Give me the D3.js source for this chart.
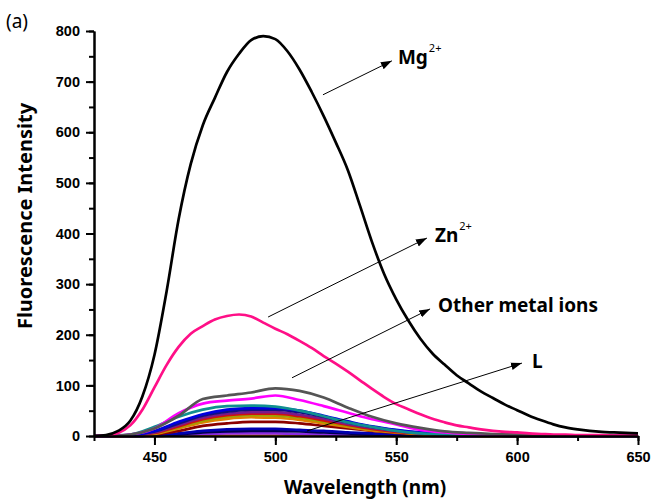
<!DOCTYPE html>
<html>
  <head>
    <meta charset="utf-8">
    <script src="https://d3js.org/d3.v7.min.js"></script>
    <style>
      body { margin: 0; background: #fff; }
      .tick text { font-family: "Liberation Sans", Arial, sans-serif; font-weight: bold; font-size: 14.5px; fill: #000; }
      .title { font-family: "Noto Sans", sans-serif; font-weight: bold; fill: #000; }
      .curve { fill: none; stroke-width: 2.7px; stroke-linejoin: round; }
    </style>
  </head>
  <body>
    <div id="chart"></div>
    <script>
      // wavelength grids (nm)
      var wlFine = [425,430,435,440,445,450,455,460,465,470,475,480,485,490,495,500,505,510,515,520,525,530,535,540,545,550,555,560,565,570,575,580,585,590,595,600,605,610,615,620,625,630,635,640,645,650]
      var wlCoarse = [425,430,440,450,460,470,480,490,500,510,520,530,540,550,560,570,580,590,600,610,620,630,640,650]

      // intensities
      var mg = [0,2,10,30,78,160,285,428,537,614,668,719,755,782,790,784,760,724,680,632,580,525,455,383,320,270,228,192,163,141,120,104,88,75,62,51,40,31,23,17,13,10,8,7,6,5]
      var zn = [0,1,6,21,52,96,140,176,202,217,230,237,240,236,224,212,201,188,174,158,143,127,110,93,77,63,53,43,34,27,21,17,13,10,8,7,5,4,3,3,2,2,2,1,1,1]
      var grayS = [0,0,3,15,40,73,80,86,94,89,76,56,38,25,16,9,6,4,3,2,1,1,0,0]
      var magentaS = [0,0,3,15,45,64,70,74,80,71,59,46,33,23,12,7,4,3,2,1,1,0,0,0]
      var tealS = [0,1,3,18,38,52,59,60,58,50,39,27,18,10,5,3,2,1,1,1,0,0,0,0]
      var blueS = [0,0,2,10,28,43,52,55,55,50,40,29,19,12,7,4,2,1,1,0,0,0,0,0]
      var navyS = [0,0,2,9,25,40,48,52,52,47,38,27,18,11,6,3,2,1,0,0,0,0,0,0]
      var purpleS = [0,0,1,7,22,36,44,47,47,42,34,24,16,10,5,3,2,1,0,0,0,0,0,0]
      var redS = [0,0,1,6,19,33,41,44,44,39,31,22,14,8,5,3,1,1,0,0,0,0,0,0]
      var oliveS = [0,0,1,5,17,30,38,41,40,36,28,20,13,8,4,2,1,0,0,0,0,0,0,0]
      var orangeS = [0,0,1,4,15,27,34,37,36,32,25,18,11,7,4,2,1,0,0,0,0,0,0,0]
      var wineS = [0,0,0,3,10,20,25,28,28,25,20,15,10,6,3,2,1,0,0,0,0,0,0,0]
      var blue2S = [0,0,0,1,5,10,13,14,14,12,10,7,5,3,2,1,0,0,0,0,0,0,0,0]
      var darkNavyS = [0,0,0,1,3,7,9,10,10,9,7,5,3,2,1,0,0,0,0,0,0,0,0,0]
      var violetS = [0,0,0,0,2,4,5,5,5,4,3,2,2,1,0,0,0,0,0,0,0,0,0,0]
      var flatS = [0,0,0,0,1,1,1,1,1,1,1,1,1,0,0,0,0,0,0,0,0,0,0,0]

      var xTicks = [450,500,550,600,650]
      var yTicks = [0,100,200,300,400,500,600,700,800]

      // annotations: [label, superscript, arrow start (nm, a.u.), arrow end, text anchor]
      var notes = [
        ["Mg", "2+", [519.7,674], [548.2,741], [550.7,735]],
        ["Zn", "2+", [497,235], [562.7,391], [566,383]],
        ["Other metal ions", "", [506.9,115], [564,251], [567.3,245]],
        ["L", "", [513.1,10], [602,144], [606.2,134]]
      ]

      var series = [
        {v: flatS, wl: wlCoarse, c: "#ff8000"},
        {v: violetS, wl: wlCoarse, c: "#8a2be2"},
        {v: darkNavyS, wl: wlCoarse, c: "#000050"},
        {v: blue2S, wl: wlCoarse, c: "#0000b0"},
        {v: wineS, wl: wlCoarse, c: "#8b0000"},
        {v: orangeS, wl: wlCoarse, c: "#e08000"},
        {v: oliveS, wl: wlCoarse, c: "#a0a000"},
        {v: redS, wl: wlCoarse, c: "#d01010"},
        {v: purpleS, wl: wlCoarse, c: "#7a1a8a"},
        {v: navyS, wl: wlCoarse, c: "#101080"},
        {v: blueS, wl: wlCoarse, c: "#0000e0"},
        {v: tealS, wl: wlCoarse, c: "#109090"},
        {v: magentaS, wl: wlCoarse, c: "#ff00ff"},
        {v: grayS, wl: wlCoarse, c: "#555555"},
        {v: zn, wl: wlFine, c: "#ff0f87"},
        {v: mg, wl: wlFine, c: "#000000"}
      ]

      var W = 653, H = 501
      var svg = d3.select("#chart").append("svg").attr("width", W).attr("height", H)

      var x = d3.scaleLinear().domain([425, 650]).range([94, 638])
      var y = d3.scaleLinear().domain([0, 800]).range([436, 31])

      var line = d3.line()
        .x(function(d) { return x(d[0]) })
        .y(function(d) { return y(d[1]) })
        .curve(d3.curveMonotoneX)

      svg.append("g").selectAll("path")
        .data(series)
        .join("path")
        .attr("class", "curve")
        .attr("stroke", function(s) { return s.c })
        .attr("d", function(s) { return line(s.wl.map(function(w, i) { return [w, s.v[i]] })) })

      // minor ticks
      svg.append("g").attr("transform", "translate(0,436)")
        .call(d3.axisBottom(x).tickValues(d3.range(425, 651, 25)).tickSize(5).tickSizeOuter(0).tickFormat(""))
      svg.append("g").attr("transform", "translate(94,0)")
        .call(d3.axisLeft(y).tickValues(d3.range(0, 801, 50)).tickSize(5).tickSizeOuter(0).tickFormat(""))

      var xAxis = svg.append("g").attr("transform", "translate(0,436)")
        .call(d3.axisBottom(x).tickValues(xTicks).tickSize(9).tickSizeOuter(0).tickPadding(7))
      var yAxis = svg.append("g").attr("transform", "translate(94,0)")
        .call(d3.axisLeft(y).tickValues(yTicks).tickSize(8).tickSizeOuter(0).tickPadding(6))

      svg.selectAll(".domain, .tick line").attr("stroke", "#000").attr("stroke-width", 2)

      svg.append("text").attr("class", "title")
        .attr("x", 365).attr("y", 494).attr("text-anchor", "middle")
        .style("font-size", "19px").text("Wavelength (nm)")
      svg.append("text").attr("class", "title")
        .attr("transform", "translate(32,216) rotate(-90)").attr("text-anchor", "middle")
        .style("font-size", "20px").text("Fluorescence Intensity")
      svg.append("text")
        .attr("x", 6).attr("y", 28)
        .style("font-family", "'Noto Sans', sans-serif").style("font-size", "19px")
        .text("(a)")

      // arrow marker
      svg.append("defs").append("marker")
        .attr("id", "arr").attr("viewBox", "0 0 10 10").attr("refX", 10).attr("refY", 5)
        .attr("markerWidth", 11).attr("markerHeight", 11).attr("markerUnits", "userSpaceOnUse")
        .attr("orient", "auto")
        .append("path").attr("d", "M0,1.5L10,5L0,8.5Z").attr("fill", "#000")

      var ann = svg.append("g")
      notes.forEach(function(n) {
        ann.append("line")
          .attr("x1", x(n[2][0])).attr("y1", y(n[2][1]))
          .attr("x2", x(n[3][0])).attr("y2", y(n[3][1]))
          .attr("stroke", "#000").attr("stroke-width", 1)
          .attr("marker-end", "url(#arr)")
        var t = ann.append("text").attr("class", "title")
          .attr("x", x(n[4][0])).attr("y", y(n[4][1]))
          .style("font-size", "19px")
        t.append("tspan").text(n[0])
        if (n[1]) {
          t.append("tspan").attr("dx", 1).attr("dy", -12).style("font-size", "11px").style("font-weight", "normal").text(n[1])
        }
      })
    </script>
  </body>
</html>
